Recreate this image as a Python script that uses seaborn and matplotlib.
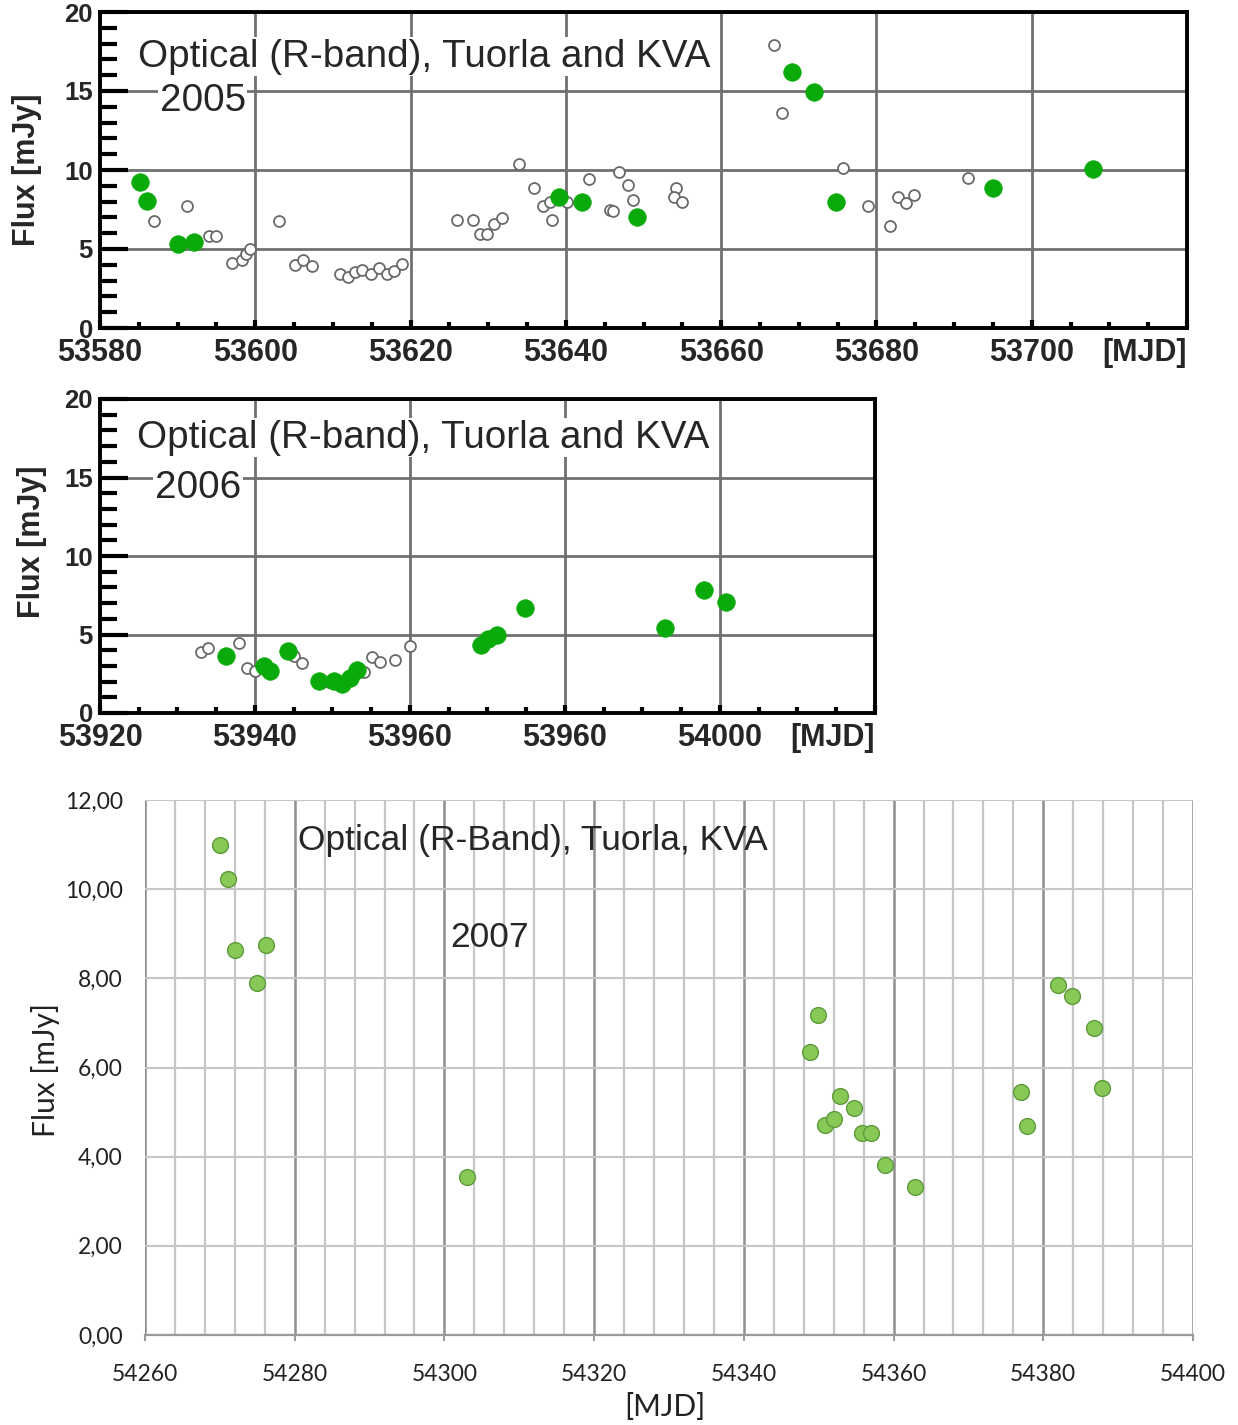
import matplotlib
matplotlib.use("Agg")
import matplotlib.pyplot as plt
import seaborn as sns
import pandas as pd
from matplotlib.ticker import MultipleLocator, FuncFormatter

# ---------------- data ----------------
# 2005 (open = Tuorla, filled = KVA)
open05_mjd = [53587.0, 53591.2, 53594.1, 53595.0, 53597.0, 53598.3, 53598.8, 53599.3,
              53603.1, 53605.1, 53606.2, 53607.3, 53610.9, 53612.0, 53612.8, 53613.8,
              53614.9, 53615.9, 53616.9, 53617.9, 53618.9, 53626.0, 53628.0, 53628.9,
              53629.8, 53630.8, 53631.8, 53634.0, 53635.9, 53637.1, 53637.9, 53638.2,
              53640.2, 53643.0, 53645.7, 53646.1, 53646.9, 53648.0, 53648.7, 53654.2,
              53653.9, 53655.0, 53666.8, 53667.8, 53675.7, 53678.9, 53681.8, 53682.8,
              53683.8, 53684.8, 53691.8]
open05_flux = [6.77, 7.69, 5.8, 5.8, 4.13, 4.3, 4.7, 5.0,
               6.77, 3.98, 4.3, 3.92, 3.42, 3.2, 3.56, 3.67,
               3.42, 3.77, 3.42, 3.63, 4.05, 6.86, 6.86, 5.93,
               5.93, 6.56, 6.98, 10.38, 8.85, 7.69, 7.97, 6.86,
               7.97, 9.43, 7.48, 7.4, 9.9, 9.06, 8.11, 8.85,
               8.28, 8.0, 17.88, 13.63, 10.1, 7.69, 6.44, 8.32,
               7.9, 8.43, 9.48]
fill05_mjd = [53585.2, 53586.1, 53590.1, 53592.1, 53639.1, 53642.1, 53649.1,
              53669.1, 53671.9, 53674.8, 53695.0, 53707.9]
fill05_flux = [9.22, 8.02, 5.33, 5.47, 8.29, 8.0, 7.05, 16.22, 14.95, 8.0, 8.83, 10.06]

# 2006
open06_mjd = [53933.0, 53934.0, 53938.0, 53939.0, 53940.0, 53945.0, 53946.1, 53949.5,
              53954.1, 53955.1, 53956.1, 53958.1, 53960.0]
open06_flux = [3.9, 4.14, 4.45, 2.87, 2.66, 3.65, 3.16, 2.0,
               2.6, 3.55, 3.24, 3.36, 4.29]
fill06_mjd = [53936.2, 53941.2, 53942.0, 53944.2, 53948.2, 53950.2, 53951.2, 53952.3,
              53953.1, 53969.1, 53970.1, 53971.2, 53974.9, 53992.9, 53997.9, 54000.8]
fill06_flux = [3.62, 3.0, 2.66, 3.94, 2.02, 2.02, 1.86, 2.25,
               2.72, 4.35, 4.72, 5.0, 6.68, 5.42, 7.83, 7.08]

# 2007
mjd07 = [54270.0, 54271.1, 54272.0, 54275.0, 54276.1, 54303.0, 54348.8, 54349.9,
         54350.9, 54352.0, 54352.8, 54354.7, 54355.8, 54357.0, 54358.8, 54362.8,
         54377.0, 54377.8, 54381.9, 54383.9, 54386.8, 54387.9]
flux07 = [10.98, 10.22, 8.64, 7.89, 8.74, 3.55, 6.35, 7.17,
          4.7, 4.85, 5.35, 5.09, 4.54, 4.54, 3.81, 3.32,
          5.46, 4.68, 7.86, 7.6, 6.88, 5.54]

xticks05 = [53580, 53600, 53620, 53640, 53660, 53680, 53700, 53720]
xlabels05 = ["53580", "53600", "53620", "53640", "53660", "53680", "53700", "[MJD]"]
xticks06 = [53920, 53940, 53960, 53980, 54000, 54020]
xlabels06 = ["53920", "53940", "53960", "53960", "54000", "[MJD]"]
yticks_top = [0, 5, 10, 15, 20]
xticks07 = [54260, 54280, 54300, 54320, 54340, 54360, 54380, 54400]

title_top = "Optical (R-band), Tuorla and KVA"
title_07 = "Optical (R-Band), Tuorla, KVA"

# ---------------- style ----------------
sns.set_theme(style="white")
plt.rcParams["font.family"] = ["Liberation Sans", "DejaVu Sans"]

W, H = 1238, 1425
fig = plt.figure(figsize=(W / 100, H / 100), dpi=100)


def frac(l, t, r, b):
    return [l / W, 1 - b / H, (r - l) / W, (b - t) / H]


GREEN = "#0aaa0a"
GRID = "#707070"


def top_panel(ax, o_x, o_y, f_x, f_y, xlim, xticks, xlabels, year, tpos, ypos, ylab_x, ylab_y):
    sns.scatterplot(x=o_x, y=o_y, ax=ax, s=62, color="white", edgecolor="#6a6a6a",
                    linewidth=1.3, zorder=3, legend=False)
    sns.scatterplot(x=f_x, y=f_y, ax=ax, s=160, color=GREEN, edgecolor=GREEN,
                    linewidth=0.5, zorder=4, legend=False)
    ax.set_xlim(*xlim)
    ax.set_ylim(0, 20)
    ax.set_xticks(xticks)
    ax.set_xticklabels(xlabels, fontsize=22, fontweight="bold")
    ax.get_xticklabels()[-1].set_ha("right")
    ax.set_yticks(yticks_top)
    ax.set_yticklabels([str(v) for v in yticks_top], fontsize=18.5, fontweight="bold")
    ax.xaxis.set_minor_locator(MultipleLocator(5))
    ax.yaxis.set_minor_locator(MultipleLocator(1))
    ax.tick_params(axis="y", which="major", direction="in", length=20, width=3,
                   color="black", left=True, right=False, pad=5)
    ax.tick_params(axis="y", which="minor", direction="in", length=12, width=3,
                   color="black", left=True, right=False)
    ax.tick_params(axis="x", which="major", direction="in", length=6, width=3,
                   color="black", bottom=True, top=False, pad=7)
    ax.tick_params(axis="x", which="minor", direction="in", length=4, width=3,
                   color="black", bottom=True, top=False)
    ax.grid(True, which="major", color=GRID, linewidth=2.0)
    ax.set_axisbelow(True)
    for sp in ax.spines.values():
        sp.set_visible(True)
        sp.set_color("black")
        sp.set_linewidth(2.8)
    ax.set_xlabel("")
    ax.set_ylabel("Flux [mJy]", fontsize=22, fontweight="bold")
    ax.yaxis.set_label_coords(ylab_x, ylab_y)
    bb = dict(facecolor="white", edgecolor="none", pad=1.0)
    ax.text(tpos[0], tpos[1], title_top, transform=ax.transAxes, fontsize=27.8,
            ha="left", va="center", bbox=bb, zorder=5)
    ax.text(ypos[0], ypos[1], year, transform=ax.transAxes, fontsize=27.8,
            ha="left", va="center", bbox=bb, zorder=5)


ax1 = fig.add_axes(frac(100, 12, 1187, 328))
top_panel(ax1, open05_mjd, open05_flux, fill05_mjd, fill05_flux, (53580, 53720),
          xticks05, xlabels05, "2005", (0.035, 0.858), (0.055, 0.718), -0.053, 0.5)

ax2 = fig.add_axes(frac(100, 399, 875, 713))
top_panel(ax2, open06_mjd, open06_flux, fill06_mjd, fill06_flux, (53920, 54020),
          xticks06, xlabels06, "2006", (0.048, 0.876), (0.071, 0.717), -0.068, 0.546)

# ---------------- 2007 panel ----------------
ax3 = fig.add_axes(frac(145, 800, 1193, 1335))
sns.scatterplot(x=mjd07, y=flux07, ax=ax3, s=130, color="#88c857", edgecolor="#5d9a3c",
                linewidth=1.0, zorder=4, legend=False, clip_on=False)
ax3.set_xlim(54260, 54400)
ax3.set_ylim(0, 12)
ax3.set_xticks(xticks07)
ax3.xaxis.set_minor_locator(MultipleLocator(4))
ax3.yaxis.set_major_locator(MultipleLocator(2))
ax3.yaxis.set_major_formatter(FuncFormatter(lambda v, p: f"{v:.2f}".replace(".", ",")))
ax3.grid(True, which="minor", axis="x", color="#c6c6c6", linewidth=1.6)
ax3.grid(True, which="major", axis="x", color="#8e8e8e", linewidth=1.8)
ax3.grid(True, which="major", axis="y", color="#c6c6c6", linewidth=1.5)
ax3.set_axisbelow(True)
for name, sp in ax3.spines.items():
    sp.set_visible(name == "bottom")
ax3.spines["bottom"].set_color("#9a9a9a")
ax3.spines["bottom"].set_linewidth(1.6)
ax3.tick_params(axis="x", which="major", direction="out", length=4, width=1.5,
                color="#9a9a9a", bottom=True, pad=17, labelsize=16.5, labelcolor="#222222")
ax3.tick_params(axis="x", which="minor", length=0)
ax3.tick_params(axis="y", which="major", length=0, left=True, pad=16, labelsize=16.5,
                labelcolor="#222222")
for lab in ax3.get_xticklabels() + ax3.get_yticklabels():
    lab.set_family(["Lato", "DejaVu Sans"])
ax3.set_xlabel("[MJD]", fontsize=21.5, family=["Lato", "DejaVu Sans"], color="#222222")
ax3.xaxis.set_label_coords(0.496, -0.108)
ax3.xaxis.label.set_va("top")
ax3.set_ylabel("Flux [mJy]", fontsize=21.5, family=["Lato", "DejaVu Sans"], color="#222222")
ax3.yaxis.set_label_coords(-0.081, 0.495)
ax3.text(54280.4, 11.1, title_07, fontsize=25.5, ha="left", va="center", zorder=5)
ax3.text(54306.0, 8.92, "2007", fontsize=25.5, ha="center", va="center", zorder=5)

fig.savefig("out.png", dpi=100)
